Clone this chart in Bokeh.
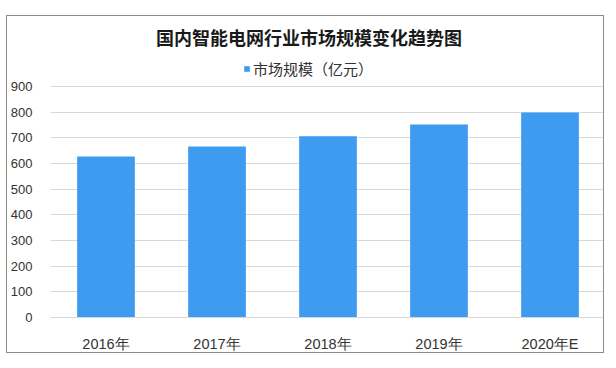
from bokeh.plotting import figure
from bokeh.models import ColumnDataSource, Range1d, FixedTicker, Label, Legend, LegendItem
from bokeh.embed import file_html
from bokeh.resources import INLINE

title_text = "国内智能电网行业市场规模变化趋势图"
series_name = "市场规模（亿元）"
years = ["2016年", "2017年", "2018年", "2019年", "2020年E"]
market_size = [628, 667, 707, 752, 799]
y_ticks = [0, 100, 200, 300, 400, 500, 600, 700, 800, 900]

source = ColumnDataSource(data=dict(year=years, value=market_size))

p = figure(
    x_range=years,
    y_range=Range1d(0, 1173.4),
    width=598,
    height=338,
    output_backend="svg",
    toolbar_location=None,
    min_border_left=41,
    min_border_right=0,
    min_border_top=0,
    min_border_bottom=30,
)
p.styles = {"margin-left": "6px", "margin-top": "15px",
            "border": "1px solid #8c8c8c"}
p.outline_line_color = None
p.background_fill_color = "white"
p.border_fill_color = "white"

r = p.vbar(x="year", top="value", width=0.52, source=source,
           fill_color="#3E9BF0", line_color=None)

# y axis
p.yaxis.ticker = FixedTicker(ticks=y_ticks)
p.yaxis.axis_line_color = None
p.yaxis.major_tick_line_color = None
p.yaxis.minor_tick_line_color = None
p.yaxis.major_label_standoff = 12
p.yaxis.major_label_text_font = "Liberation Sans"
p.yaxis.major_label_text_font_size = "13px"
p.yaxis.major_label_text_color = "#333333"
p.ygrid.grid_line_color = "#d9d9d9"
p.ygrid.ticker = FixedTicker(ticks=y_ticks)

# x axis
p.xaxis.axis_line_color = "#d9d9d9"
p.xaxis.major_tick_line_color = None
p.xaxis.minor_tick_line_color = None
p.xaxis.major_label_standoff = 12
p.xaxis.major_label_text_font = "Liberation Sans"
p.xaxis.major_label_text_font_size = "14.5px"
p.xaxis.major_label_text_color = "#333333"
p.xgrid.grid_line_color = None
p.x_range.range_padding = 0

# title
title = Label(x=258.5, y=281, x_units="screen", y_units="screen",
              text=title_text, text_font="Noto Sans CJK SC",
              text_font_style="bold", text_font_size="18px",
              text_color="#1a1a1a", text_align="center", text_baseline="middle")
p.add_layout(title)

legend = Legend(items=[LegendItem(label=series_name, renderers=[r])],
                location=(193, 238), orientation="horizontal",
                glyph_width=7, glyph_height=7, label_standoff=3,
                label_text_font="Noto Sans CJK SC", label_text_font_size="15px",
                label_text_color="#333333", padding=0, margin=0,
                border_line_color=None, background_fill_alpha=0)
p.add_layout(legend, "center")

open("out.html", "w").write(file_html(p, INLINE))
